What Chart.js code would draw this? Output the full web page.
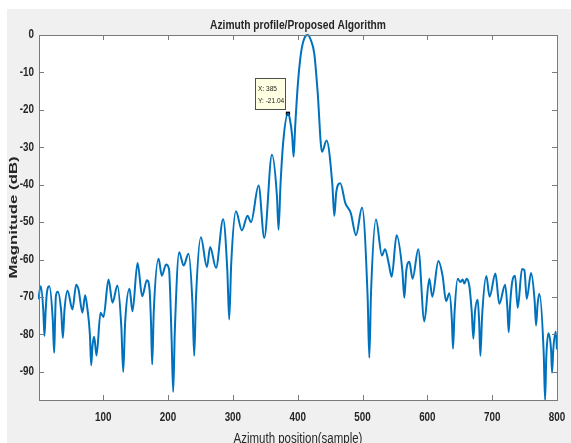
<!DOCTYPE html>
<html>
<head>
<meta charset="utf-8">
<script src="https://cdn.jsdelivr.net/npm/chart.js@4.4.1/dist/chart.umd.min.js"></script>
<style>
html,body{margin:0;padding:0;background:#ffffff;}
#wrap{width:571px;height:443px;position:relative;}
</style>
</head>
<body>
<div id="wrap"><canvas id="c"></canvas></div>
<script>
// ---- data ----
const samplePos = [0,3.8,7.6,9.4,11.2,13,17,22.2,24.4,25.8,27,30,35.3,37.8,40.3,45,52.6,58.3,62,68,72.2,75.8,79.5,81.5,83.5,86.1,89.7,95.9,100.5,108.2,114.4,122,128,130.9,133.8,140.6,145.2,153,160.2,167.4,171.5,173.8,175.6,178,185.4,190.5,197,201.5,205.5,208,210.5,217.3,224,231.6,237.8,240.4,243.2,250.7,260,265,274,285,291.5,294.4,297.5,304.8,314,322.7,328,339.7,348.5,360.3,368,370.5,373.5,378,385,388,391.5,393.7,396,400,405,410,415.3,420,425.6,430.7,437.5,444.6,453.5,456.5,459.5,465.7,473.5,482,490,499.2,507.9,510.5,513.1,520.8,530,534.7,540.3,545,552.6,561.5,564.5,567.5,572.2,577.3,586,595.4,603,607.7,617,623.6,628.9,634,637.8,639.6,642,646.8,651,654.5,657,660.7,664.8,668.5,671,673.5,677.7,680,681.8,684.5,691,696,705,711,720,723.5,725.5,727.7,731,735.3,739.4,746,749.7,753.3,760,765.5,767.7,770,772.8,779.5,781.6,783.5,786.7,790.8,792.4,794.3,798,800];
const magnitudeDb = [-70.6,-67.1,-73.5,-80.4,-74,-69.1,-67.1,-76,-84.9,-76,-69.8,-68.6,-74,-80.9,-73.5,-68.3,-73.3,-66.7,-68,-74.2,-69.5,-73.3,-80,-88.2,-83,-80.6,-85.6,-74.2,-75.3,-65.3,-71.5,-66.9,-78,-90,-77,-67.8,-73.8,-60.9,-69.8,-65.5,-68,-77,-88,-74,-59.8,-64.3,-61.3,-62.5,-81,-95.3,-79,-58,-61.6,-58.4,-72,-85.7,-70,-54,-62,-56.6,-62.2,-49.2,-63,-76,-61,-47.1,-52.2,-48.3,-50,-40.2,-54.2,-32,-43,-52,-40,-28,-21.04,-22.5,-27,-32.5,-25,-13.8,-5,-1,0,-1.2,-5,-15,-31.2,-28.2,-40,-48.3,-42,-39.6,-44.9,-47.6,-53.5,-46.1,-70,-86.2,-69,-49.3,-58.9,-57.2,-60.9,-64.6,-53.5,-63,-70.2,-63,-60.6,-65.1,-57.2,-76.5,-65.1,-69.9,-60.4,-64.4,-71.1,-69,-76,-83.8,-74,-65.1,-66,-65.3,-66.4,-65.1,-67.1,-74,-81.1,-74,-70.7,-77,-85.7,-75,-64.4,-69.9,-63.7,-71.8,-66.7,-73,-79.4,-72,-65.8,-64.3,-72.9,-62.5,-62.8,-70.5,-63.6,-71,-77.6,-72,-69.1,-85,-97.5,-86,-79.7,-84,-90.2,-84,-79.3,-84];
const xTickValues = [100,200,300,400,500,600,700,800];
const yTickValues = [0,-10,-20,-30,-40,-50,-60,-70,-80,-90];
const datatipX = [385];
const datatipY = [-21.04];
const titleText = 'Azimuth profile/Proposed Algorithm';
const xLabelText = 'Azimuth position(sample)';
const yLabelText = 'Magnitude (dB)';

const FONT = "'Liberation Sans',Arial,sans-serif";
const AX_COLOR = '#7a7a7a';
const TXT_COLOR = '#262626';
const SQUASH = 0.82; // emulate a narrow (Arial Narrow-like) face

const points = samplePos.map((x, i) => ({x, y: magnitudeDb[i]}));
const tipPoints = datatipX.map((x, i) => ({x, y: datatipY[i]}));

const canvas = document.getElementById('c');
const ctx2d = canvas.getContext('2d');
const origFillText = ctx2d.fillText.bind(ctx2d);
ctx2d.fillText = function (text, x, y, maxWidth) {
  const w = this.measureText(text).width * SQUASH;
  const mw = (maxWidth === undefined || maxWidth === null) ? w : Math.min(maxWidth, w);
  origFillText(text, x, y, mw);
};

const figPlugin = {
  id: 'fig',
  beforeDraw(chart) {
    const {ctx, width, height, chartArea: a} = chart;
    ctx.save();
    ctx.fillStyle = '#ffffff';
    ctx.fillRect(0, 0, width, height);
    ctx.fillStyle = '#f0f0f0';
    ctx.fillRect(7, 9, width - 7, height - 9);
    ctx.fillStyle = '#ffffff';
    ctx.fillRect(a.left, a.top, a.right - a.left, a.bottom - a.top);
    ctx.restore();
  },
  afterDatasetsDraw(chart) {
    const {ctx, chartArea: a, scales} = chart;
    ctx.save();
    ctx.strokeStyle = AX_COLOR;
    ctx.lineWidth = 1;
    ctx.beginPath();
    const L = 5;
    scales.x.ticks.forEach(t => {
      const px = Math.round(scales.x.getPixelForValue(t.value)) + 0.5;
      ctx.moveTo(px, a.bottom); ctx.lineTo(px, a.bottom - L);
      ctx.moveTo(px, a.top); ctx.lineTo(px, a.top + L);
    });
    scales.y.ticks.forEach(t => {
      const py = Math.round(scales.y.getPixelForValue(t.value)) + 0.5;
      ctx.moveTo(a.left, py); ctx.lineTo(a.left + L, py);
      ctx.moveTo(a.right, py); ctx.lineTo(a.right - L, py);
    });
    ctx.stroke();
    ctx.strokeRect(Math.round(a.left) + 0.5, Math.round(a.top) + 0.5,
                   Math.round(a.right - a.left), Math.round(a.bottom - a.top));
    // datatip box
    const mx = scales.x.getPixelForValue(datatipX[0]);
    const my = scales.y.getPixelForValue(datatipY[0]);
    const bx = Math.round(mx - 33) + 0.5, by = Math.round(my - 36) + 0.5;
    ctx.fillStyle = '#ffffe1';
    ctx.fillRect(bx, by, 30, 31);
    ctx.strokeStyle = '#4d4d4d';
    ctx.strokeRect(bx, by, 30, 31);
    ctx.fillStyle = '#1a1a1a';
    ctx.font = "8px " + FONT;
    ctx.textBaseline = 'middle';
    ctx.textAlign = 'left';
    ctx.fillText('X: ' + datatipX[0], bx + 2.5, by + 10.5);
    ctx.fillText('Y: ' + datatipY[0].toFixed(2), bx + 2.5, by + 22.5);
    // y axis label (tall, narrow glyphs as in the reference)
    ctx.translate(14.5, (a.top + a.bottom) / 2);
    ctx.rotate(-Math.PI / 2);
    ctx.scale(1.6, 1);
    ctx.font = "bold 10.5px " + FONT;
    ctx.fillStyle = TXT_COLOR;
    ctx.textAlign = 'center';
    ctx.textBaseline = 'middle';
    origFillText(yLabelText, 0, 0);
    ctx.restore();
  }
};

new Chart(ctx2d, {
  type: 'scatter',
  data: {
    datasets: [
      {
        data: points,
        showLine: true,
        borderColor: '#0072BD',
        borderWidth: 2,
        pointRadius: 0,
        cubicInterpolationMode: 'monotone',
        fill: false,
        clip: {left: 1, right: 0, top: 2, bottom: 1}
      },
      {
        data: tipPoints,
        showLine: false,
        pointStyle: 'rect',
        pointRadius: 3,
        backgroundColor: '#000000',
        borderColor: '#000000',
        borderWidth: 0
      }
    ]
  },
  options: {
    responsive: true,
    maintainAspectRatio: false,
    animation: false,
    events: [],
    layout: {padding: {left: 0, right: 14, top: 0, bottom: 0}},
    plugins: {
      legend: {display: false},
      tooltip: {enabled: false},
      title: {
        display: true,
        fullSize: false,
        text: titleText,
        color: TXT_COLOR,
        font: {family: FONT, size: 12.5, weight: 'bold'},
        padding: {top: 18, bottom: 2}
      }
    },
    scales: {
      x: {
        type: 'linear',
        min: 1,
        max: 800,
        afterBuildTicks: s => { s.ticks = xTickValues.map(v => ({value: v})); },
        afterFit: s => { s.height = 43; s.paddingLeft = 0; s.paddingRight = 0; },
        grid: {display: false, drawTicks: false},
        border: {display: false},
        ticks: {color: TXT_COLOR, font: {family: FONT, size: 12, weight: 'bold'}, padding: 10, maxRotation: 0, autoSkip: false},
        title: {display: true, text: xLabelText, color: TXT_COLOR, font: {family: FONT, size: 14}, padding: {top: 0, bottom: -5}}
      },
      y: {
        type: 'linear',
        min: -97.5,
        max: 0,
        afterBuildTicks: s => { s.ticks = yTickValues.map(v => ({value: v})); },
        afterFit: s => { s.width = 39; s.paddingTop = 0; s.paddingBottom = 0; },
        grid: {display: false, drawTicks: false},
        border: {display: false},
        ticks: {color: TXT_COLOR, font: {family: FONT, size: 12, weight: 'bold'}, padding: 5, autoSkip: false},
        title: {display: false}
      }
    }
  },
  plugins: [figPlugin]
});
</script>
</body>
</html>
